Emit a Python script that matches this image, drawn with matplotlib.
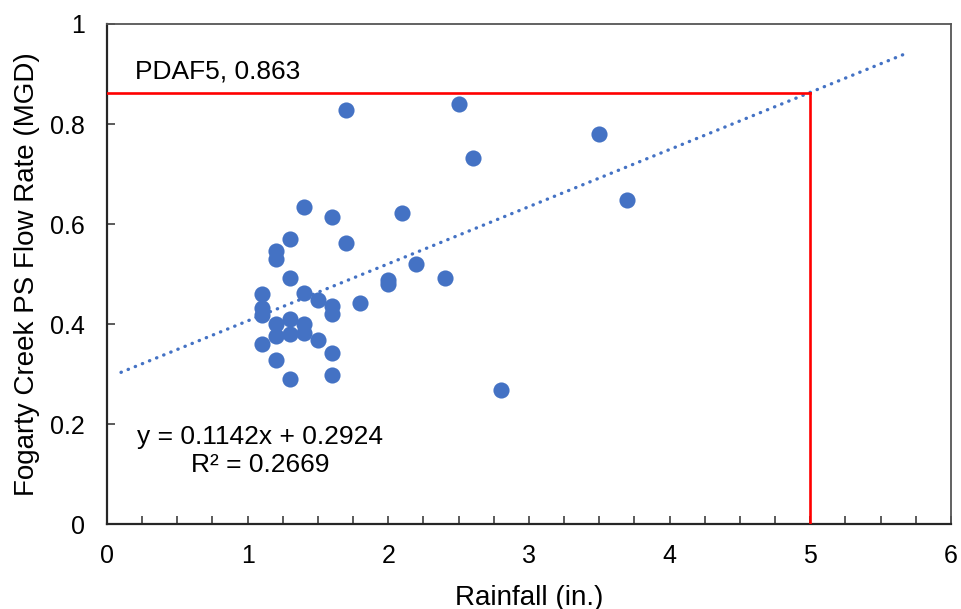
import matplotlib
matplotlib.use("Agg")
import matplotlib.pyplot as plt
import numpy as np
from matplotlib.ticker import MultipleLocator

# lluvia (pulgadas) vs caudal (MGD)
rainfall = [1.7, 2.5, 3.5, 2.6, 3.7, 1.4, 1.6, 2.1, 1.3, 1.2,
            1.2, 1.7, 1.3, 2.2, 2.0, 2.0, 2.4, 1.4, 1.5, 1.6,
            1.6, 1.8, 1.1, 1.1, 1.1, 1.3, 1.2, 1.4, 1.2, 1.3,
            1.4, 1.5, 1.1, 1.6, 1.2, 1.3, 1.6, 2.8]
flow = [0.829, 0.841, 0.781, 0.733, 0.648, 0.634, 0.615, 0.622, 0.570, 0.547,
        0.531, 0.562, 0.493, 0.520, 0.488, 0.480, 0.492, 0.462, 0.449, 0.437,
        0.421, 0.442, 0.460, 0.432, 0.419, 0.410, 0.400, 0.400, 0.377, 0.381,
        0.382, 0.369, 0.360, 0.343, 0.328, 0.290, 0.299, 0.268]

# linea de tendencia (Excel) y su rango
pendiente = 0.1142
ordenada = 0.2924
r2 = 0.2669
trend_x = np.array([0.1, 5.7])

# PDAF5
pdaf_x = 5
pdaf_y = 0.863

plt.rcParams['font.family'] = ['Liberation Sans', 'DejaVu Sans']

fig = plt.figure(figsize=(9.61, 6.09), dpi=100)
ax = fig.add_axes([0.1113, 0.139, 0.8783, 0.8216])

azul = '#4472C4'
ax.scatter(rainfall, flow, s=135, color=azul, zorder=3, linewidths=0)
ax.plot(trend_x, pendiente * trend_x + ordenada, color=azul, lw=2.4,
        linestyle=(0, (0.1, 2.2)), dash_capstyle='round', zorder=2)

# lineas rojas del PDAF
ax.plot([0, pdaf_x], [pdaf_y, pdaf_y], color='red', lw=1.9, zorder=4)
ax.plot([pdaf_x, pdaf_x], [0, pdaf_y], color='red', lw=1.9, zorder=4)
ax.text(0.2, 0.905, 'PDAF5, {}'.format(pdaf_y), fontsize=19, va='center', ha='left')

ax.text(1.09, 0.147, 'y = {}x + {}\nR² = {}'.format(pendiente, ordenada, r2),
        fontsize=19, ha='center', va='center', multialignment='center', linespacing=1.2)

ax.set_xlim(0, 6)
ax.set_ylim(0, 1)
ax.xaxis.set_major_locator(MultipleLocator(1))
ax.xaxis.set_minor_locator(MultipleLocator(0.25))
ax.set_yticks([0, 0.2, 0.4, 0.6, 0.8, 1])
ax.set_yticklabels(['0', '0.2', '0.4', '0.6', '0.8', '1'])

ax.tick_params(axis='both', which='both', direction='in', length=6, width=1.2,
               labelsize=18, color='#404040')
ax.tick_params(axis='x', which='both', pad=14)
ax.tick_params(axis='y', which='both', pad=16, right=False, top=False)

for lado in ['left', 'bottom']:
    ax.spines[lado].set_color('#262626')
    ax.spines[lado].set_linewidth(1.6)
for lado in ['top', 'right']:
    ax.spines[lado].set_color('#555555')
    ax.spines[lado].set_linewidth(1.3)

ax.set_xlabel('Rainfall (in.)', fontsize=20)
ax.set_ylabel('Fogarty Creek PS Flow Rate (MGD)', fontsize=20)
ax.xaxis.set_label_coords(0.5, -0.121)
ax.yaxis.set_label_coords(-0.079, 0.5)

fig.savefig('out.png', dpi=100)
